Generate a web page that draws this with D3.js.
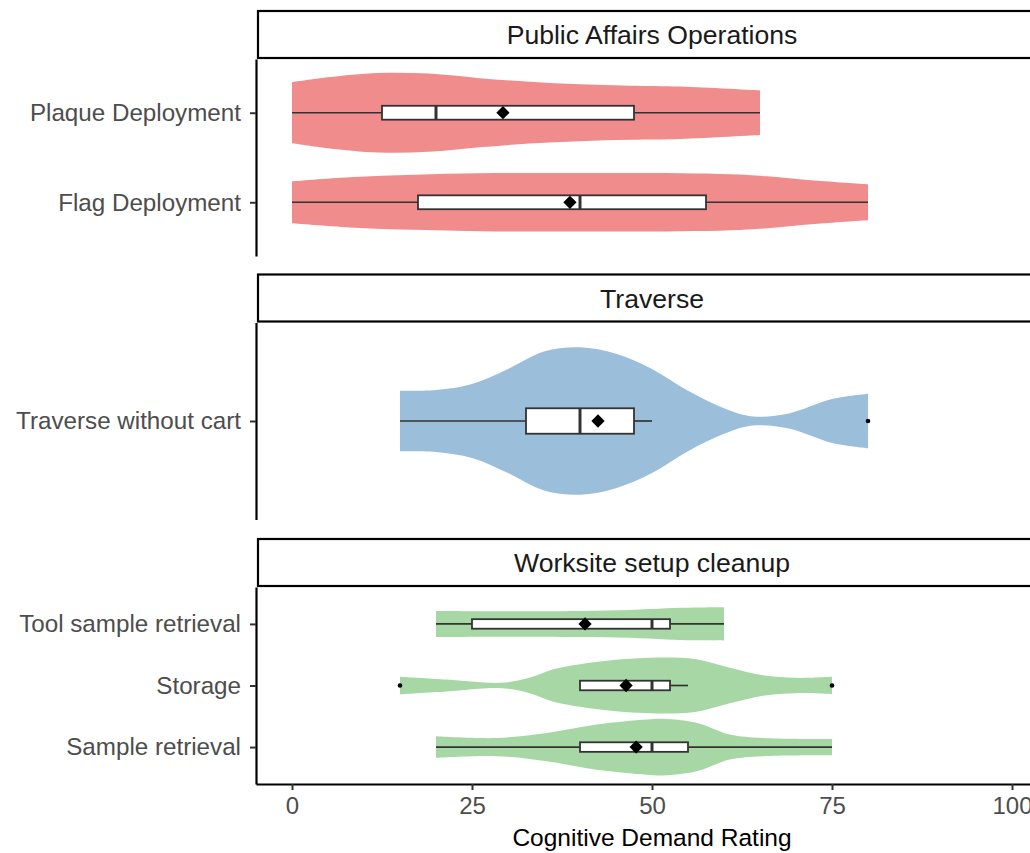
<!DOCTYPE html>
<html>
<head>
<meta charset="utf-8">
<script src="https://cdn.jsdelivr.net/npm/d3@7"></script>
<style>
  html, body { margin: 0; padding: 0; background: #ffffff; }
  svg { display: block; font-family: "Liberation Sans", Arial, sans-serif; }
</style>
</head>
<body>
<svg id="chart" width="1030" height="853"></svg>
<script>
// Facets (top to bottom) and the activities listed in each facet (top to bottom)
const facets = ["Public Affairs Operations", "Traverse", "Worksite setup cleanup"];
const facetActivities = [
  ["Plaque Deployment", "Flag Deployment"],
  ["Traverse without cart"],
  ["Tool sample retrieval", "Storage", "Sample retrieval"]
];
const facetColors = ["#F18C8D", "#9BBEDB", "#A6D7A5"];

// Box-plot summaries, one entry per activity in the order above
const activities = ["Plaque Deployment", "Flag Deployment", "Traverse without cart",
                    "Tool sample retrieval", "Storage", "Sample retrieval"];
const whiskerLow  = [0,    0,    15,   20,   40,   20];
const q1          = [12.5, 17.5, 32.5, 25,   40,   40];
const medians     = [20,   40,   40,   50,   50,   50];
const q3          = [47.5, 57.5, 47.5, 52.5, 52.5, 55];
const whiskerHigh = [65,   80,   50,   60,   55,   75];
const means       = [29.3, 38.6, 42.5, 40.7, 46.4, 47.8];
const outliers    = [[],   [],   [80], [],   [15, 75], []];

// Scaled kernel densities [rating, scaled density] (1 = widest violin)
const densPlaque = [[0,0.74],[5,0.86],[12,0.965],[19,0.95],[26,0.84],[33,0.75],[40,0.69],[47,0.655],[54,0.635],[65,0.54]];
const densFlag = [[0,0.51],[8,0.61],[17,0.67],[26,0.705],[35,0.71],[45,0.71],[54,0.705],[61,0.68],[66,0.63],[73,0.52],[80,0.435]];
const densTraverse = [[15,0.40],[20,0.41],[25,0.49],[30,0.69],[35,0.92],[40,0.975],[45,0.89],[50,0.69],[55,0.40],[60,0.17],[64,0.06],[69,0.1],[75,0.29],[80,0.36]];
const densTool = [[20,0.46],[30,0.45],[40,0.46],[47,0.49],[52,0.55],[56,0.58],[60,0.59]];
const densStorage = [[15,0.31],[21.5,0.21],[29,0.095],[33,0.27],[36.3,0.57],[40,0.75],[44.6,0.9],[51.5,0.99],[56.2,0.93],[60.8,0.63],[65.4,0.36],[70,0.27],[75,0.31]];
const densSample = [[20,0.38],[28.4,0.32],[35.4,0.5],[42.3,0.8],[49.3,0.975],[51.6,1.0],[56.2,0.855],[60.8,0.44],[65.4,0.32],[75,0.285]];
const densities = [densPlaque, densFlag, densTraverse, densTool, densStorage, densSample];

const xTicks = [0, 25, 50, 75, 100];
const xTitle = "Cognitive Demand Rating";

// Layout
const svg = d3.select("#chart");
const x = d3.scaleLinear().domain([-5, 105]).range([256, 1048]);
const panelTops = [59, 322.5, 587];
const panelH = 197;
const stripH = 47;
const violinWidth = 0.92;   // fraction of category step
const boxWidth = 0.155;     // fraction of category step

const area = d3.area().curve(d3.curveCatmullRom);
const diamond = d3.symbol().type(d3.symbolSquare).size(88);

facets.forEach((facet, fi) => {
  const top = panelTops[fi];
  const cats = facetActivities[fi];
  const y = d3.scalePoint().domain(cats).range([top, top + panelH]).padding(0.6);
  const step = cats.length > 1 ? y.step() : panelH / 1.2;

  // strip
  const strip = svg.append("g");
  strip.append("rect")
    .attr("x", 258).attr("y", top - stripH - 1)
    .attr("width", 900).attr("height", stripH)
    .attr("fill", "#ffffff").attr("stroke", "#000000").attr("stroke-width", 2.2);
  strip.append("text")
    .attr("x", (x.range()[0] + x.range()[1]) / 2)
    .attr("y", top - stripH / 2 - 1)
    .attr("dy", "0.36em")
    .attr("text-anchor", "middle")
    .attr("font-size", 26.6)
    .attr("fill", "#1A1A1A")
    .text(facet);

  const g = svg.append("g");
  cats.forEach(cat => {
    const i = activities.indexOf(cat);
    const cy = y(cat);
    const half = violinWidth / 2 * step;
    const dens = densities[i];

    // violin
    g.append("path")
      .datum(dens)
      .attr("d", area.x(d => x(d[0])).y0(d => cy - d[1] * half).y1(d => cy + d[1] * half))
      .attr("fill", facetColors[fi]);

    // whiskers
    g.append("line")
      .attr("x1", x(whiskerLow[i])).attr("x2", x(q1[i]))
      .attr("y1", cy).attr("y2", cy)
      .attr("stroke", "#333333").attr("stroke-width", 1.7);
    g.append("line")
      .attr("x1", x(q3[i])).attr("x2", x(whiskerHigh[i]))
      .attr("y1", cy).attr("y2", cy)
      .attr("stroke", "#333333").attr("stroke-width", 1.7);

    // box
    const bh = boxWidth * step;
    g.append("rect")
      .attr("x", x(q1[i])).attr("y", cy - bh / 2)
      .attr("width", x(q3[i]) - x(q1[i])).attr("height", bh)
      .attr("fill", "#ffffff").attr("stroke", "#333333").attr("stroke-width", 1.8);
    g.append("line")
      .attr("x1", x(medians[i])).attr("x2", x(medians[i]))
      .attr("y1", cy - bh / 2).attr("y2", cy + bh / 2)
      .attr("stroke", "#333333").attr("stroke-width", 3);

    // outliers
    outliers[i].forEach(v => {
      g.append("circle")
        .attr("cx", x(v)).attr("cy", cy).attr("r", 2.3)
        .attr("fill", "#000000");
    });

    // mean
    g.append("path")
      .attr("d", diamond())
      .attr("transform", `translate(${x(means[i])},${cy}) rotate(45)`)
      .attr("fill", "#000000");
  });

  // y axis
  const yAxis = svg.append("g")
    .attr("transform", `translate(${x.range()[0]},0)`)
    .call(d3.axisLeft(y).tickSizeInner(6).tickSizeOuter(0).tickPadding(9));
  yAxis.select(".domain").attr("stroke", "#000000").attr("stroke-width", 2.2);
  yAxis.selectAll(".tick line").attr("stroke", "#333333").attr("stroke-width", 2);
  yAxis.selectAll(".tick text")
    .attr("font-size", 24.2)
    .attr("font-family", "Liberation Sans, Arial, sans-serif")
    .attr("fill", "#4D4D4D");
});

// x axis under the bottom panel
const axisY = panelTops[2] + panelH;
const xAxis = svg.append("g")
  .attr("transform", `translate(0,${axisY})`)
  .call(d3.axisBottom(x).tickValues(xTicks).tickSizeInner(6).tickSizeOuter(0).tickPadding(7));
xAxis.select(".domain").attr("stroke", "#000000").attr("stroke-width", 2.2);
xAxis.selectAll(".tick line").attr("stroke", "#333333").attr("stroke-width", 2);
xAxis.selectAll(".tick text")
  .attr("font-size", 24)
  .attr("font-family", "Liberation Sans, Arial, sans-serif")
  .attr("fill", "#4D4D4D");

svg.append("text")
  .attr("x", (x.range()[0] + x.range()[1]) / 2)
  .attr("y", 846)
  .attr("text-anchor", "middle")
  .attr("font-size", 24.5)
  .attr("fill", "#000000")
  .text(xTitle);
</script>
</body>
</html>
